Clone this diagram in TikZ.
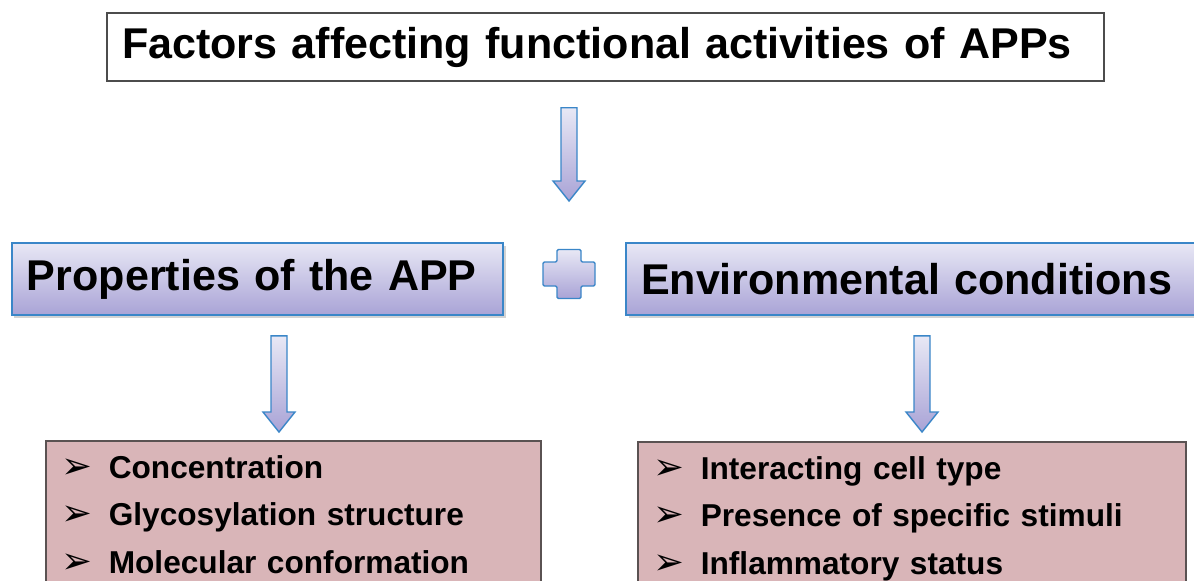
\documentclass[tikz,border=0pt]{standalone}
\usepackage{fontspec}
\setmainfont{Liberation Sans}
\newfontfamily\symfont{DejaVu Sans}
\usetikzlibrary{calc,shadows}
\definecolor{boxblue}{HTML}{3A86C8}
\definecolor{lavtop}{HTML}{E8E8F5}
\definecolor{lavbot}{HTML}{A9A3D6}
\definecolor{listpink}{HTML}{D9B5B8}
\definecolor{listline}{HTML}{5A5252}
\tikzset{titlebox/.style={
        draw=black!70, line width=0.8pt, fill=white, align=left,
        inner xsep=0.3cm, minimum height=1.36cm,
        font=\bfseries\fontsize{24.5}{28}\selectfont
    },
    headbox/.style={
        draw=boxblue, line width=0.9pt, top color=lavtop, bottom color=lavbot,
        drop shadow={opacity=0.35, shadow xshift=0.05cm, shadow yshift=-0.06cm},
        align=left, inner xsep=0.3cm, minimum height=1.44cm,
        font=\bfseries\fontsize{24.5}{28}\selectfont
    },
    listbox/.style={
        draw=listline, line width=0.9pt, fill=listpink, align=left, anchor=north west,
        inner xsep=0.32cm, inner ysep=0.29cm,
        font=\bfseries\fontsize{18}{27}\selectfont
    },
    fatarrow/.style={
        draw=boxblue, line width=0.8pt, top color=lavtop, bottom color=lavbot
    }
}
% list entry with arrow bullet
\newcommand{\itm}[1]{\makebox[0.94cm][l]{\symfont\fontsize{21}{21}\selectfont ➢}#1}
% block arrow from #1 (top of shaft) down to #2 (tip)
\newcommand{\blockarrow}[2]{%
    \draw[fatarrow] let \p1=(#1), \p2=(#2) in
        (\x1-0.16cm,\y1) -- (\x1+0.16cm,\y1) -- (\x1+0.16cm,\y2+0.4cm)
        -- (\x1+0.32cm,\y2+0.4cm) -- (\x1,\y2) -- (\x1-0.32cm,\y2+0.4cm)
        -- (\x1-0.16cm,\y2+0.4cm) -- cycle;
}

\begin{document}
\begin{tikzpicture}
      \useasboundingbox (0,0) rectangle (23.88,-11.6);
      % boxes
      \node[titlebox, text width=19.34cm] (title) at (12.11,-0.94) {Factors affecting functional activities of APPs};
      \node[headbox, text width=9.22cm] (props) at (5.15,-5.58) {Properties of the APP};
      \node[headbox, text width=10.88cm] (env) at (18.26,-5.58) {Environmental conditions};
      \node[listbox, text width=9.26cm] (plist) at (0.9,-8.8)
          {\itm{Concentration}\\ \itm{Glycosylation structure}\\ \itm{Molecular conformation}};
      \node[listbox, text width=10.32cm] (elist) at (12.74,-8.82)
          {\itm{Interacting cell type}\\ \itm{Presence of specific stimuli}\\ \itm{Inflammatory status}};
      % plus
      \coordinate (plus) at (11.38,-5.48);
      \draw[fatarrow, rounded corners=0.8pt, shift={(plus)}]
          (-0.24,0.49) -- (0.24,0.49) -- (0.24,0.24) -- (0.52,0.24) -- (0.52,-0.24)
          -- (0.24,-0.24) -- (0.24,-0.49) -- (-0.24,-0.49) -- (-0.24,-0.24)
          -- (-0.52,-0.24) -- (-0.52,0.24) -- (-0.24,0.24) -- cycle;
      % arrows
      \coordinate (a1) at ([yshift=-0.52cm]title.south -| plus);
      \coordinate (b1) at ([yshift=1.46cm]plus);
      \coordinate (a2) at ([xshift=0.43cm,yshift=-0.4cm]props.south);
      \coordinate (b2) at ([xshift=0.43cm,yshift=0.16cm]props.south |- plist.north);
      \coordinate (a3) at ([xshift=0.18cm,yshift=-0.4cm]env.south);
      \coordinate (b3) at ([xshift=0.18cm,yshift=0.16cm]env.south |- plist.north);
      \blockarrow{a1}{b1}
      \blockarrow{a2}{b2}
      \blockarrow{a3}{b3}
\end{tikzpicture}
\end{document}
